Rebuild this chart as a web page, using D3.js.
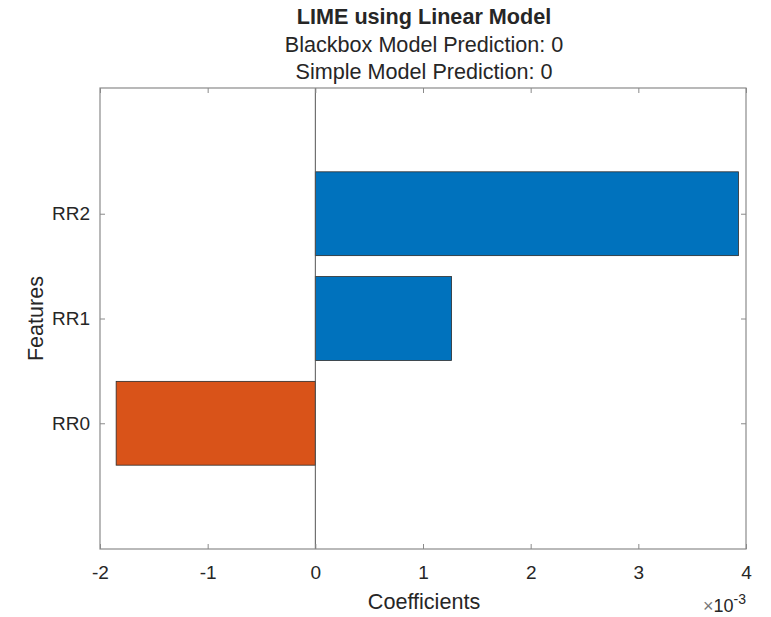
<!DOCTYPE html>
<html>
<head>
<meta charset="utf-8">
<script src="https://cdn.jsdelivr.net/npm/d3@7"></script>
<style>
  body { margin: 0; background: #fff; }
  text { font-family: "Liberation Sans", Arial, sans-serif; fill: #262626; }
</style>
</head>
<body>
<svg id="chart" width="771" height="617"></svg>
<script>
// Feature coefficients (in units of 1e-3)
const features = ["RR0", "RR1", "RR2"];
const coefficients = [-1.85, 1.265, 3.93];
const xTicks = [-2, -1, 0, 1, 2, 3, 4];
const titleLines = ["LIME using Linear Model", "Blackbox Model Prediction: 0", "Simple Model Prediction: 0"];

(function () {
const svg = d3.select("#chart");
const plotLeft = 100, plotRight = 746, plotTop = 88, plotBottom = 549;
const tickFont = 19, labelFont = 21.6;

const x = d3.scaleLinear().domain([-2, 4]).range([plotLeft, plotRight]);
// features sit at positions 1..3 with padding around them
const y = d3.scaleLinear().domain([-0.2, 4.2]).range([plotBottom, plotTop]);
const barH = y(0) - y(0.8);

const blue = "#0072BD", orange = "#D95319";

// Bars
svg.append("g").selectAll("rect")
  .data(coefficients)
  .join("rect")
  .attr("x", d => Math.min(x(0), x(d)))
  .attr("width", d => Math.abs(x(d) - x(0)))
  .attr("y", (d, i) => y(i + 1) - barH / 2)
  .attr("height", barH)
  .attr("fill", d => d < 0 ? orange : blue)
  .attr("stroke", "#2b2b2b")
  .attr("stroke-width", 0.8);

// Baseline at zero
svg.append("line")
  .attr("x1", x(0)).attr("x2", x(0))
  .attr("y1", plotTop).attr("y2", plotBottom)
  .attr("stroke", "#555").attr("stroke-width", 1);

// Axes box
const axisColor = "#8a8a8a";
svg.append("rect")
  .attr("x", plotLeft).attr("y", plotTop)
  .attr("width", plotRight - plotLeft).attr("height", plotBottom - plotTop)
  .attr("fill", "none").attr("stroke", axisColor).attr("stroke-width", 1.2);

// Bottom axis (inward ticks)
const xAxis = d3.axisBottom(x).tickValues(xTicks).tickSize(-5).tickPadding(17).tickFormat(d3.format("d"));
const gx = svg.append("g").attr("transform", `translate(0,${plotBottom})`).call(xAxis);
gx.select(".domain").remove();
gx.selectAll(".tick line").attr("stroke", axisColor);
gx.selectAll(".tick text").attr("font-size", tickFont).style("fill", "#262626")
  .text(d => d < 0 ? "-" + Math.abs(d) : d);

// Top ticks
const gxTop = svg.append("g").attr("transform", `translate(0,${plotTop})`)
  .call(d3.axisTop(x).tickValues(xTicks).tickSize(-5).tickFormat(""));
gxTop.select(".domain").remove();
gxTop.selectAll(".tick line").attr("stroke", axisColor);

// Left axis with feature names
const yAxis = d3.axisLeft(y).tickValues([1, 2, 3]).tickSize(-5).tickPadding(10)
  .tickFormat(d => features[d - 1]);
const gy = svg.append("g").attr("transform", `translate(${plotLeft},0)`).call(yAxis);
gy.select(".domain").remove();
gy.selectAll(".tick line").attr("stroke", axisColor);
gy.selectAll(".tick text").attr("font-size", tickFont).style("fill", "#262626");

// Right ticks
const gyR = svg.append("g").attr("transform", `translate(${plotRight},0)`)
  .call(d3.axisRight(y).tickValues([1, 2, 3]).tickSize(-5).tickFormat(""));
gyR.select(".domain").remove();
gyR.selectAll(".tick line").attr("stroke", axisColor);

// Titles
svg.append("text").attr("x", 424).attr("y", 24).attr("text-anchor", "middle")
  .attr("font-size", labelFont).attr("font-weight", "bold").text(titleLines[0]);
svg.append("text").attr("x", 424).attr("y", 52).attr("text-anchor", "middle")
  .attr("font-size", labelFont).text(titleLines[1]);
svg.append("text").attr("x", 424).attr("y", 79).attr("text-anchor", "middle")
  .attr("font-size", labelFont).text(titleLines[2]);

// Axis labels
svg.append("text").attr("x", 424).attr("y", 609).attr("text-anchor", "middle")
  .attr("font-size", labelFont).text("Coefficients");
svg.append("text").attr("transform", `translate(43,${(plotTop + plotBottom) / 2}) rotate(-90)`)
  .attr("text-anchor", "middle").attr("font-size", labelFont).text("Features");

// Exponent label, right-aligned to the axis end
const exp = svg.append("text").attr("x", plotRight).attr("y", 612)
  .attr("text-anchor", "end").attr("font-size", 18);
exp.append("tspan").style("fill", "#777").text("\u00d7");
exp.append("tspan").text("10");
exp.append("tspan").attr("dy", -8).attr("font-size", 14).text("-3");
})();
</script>
</body>
</html>
